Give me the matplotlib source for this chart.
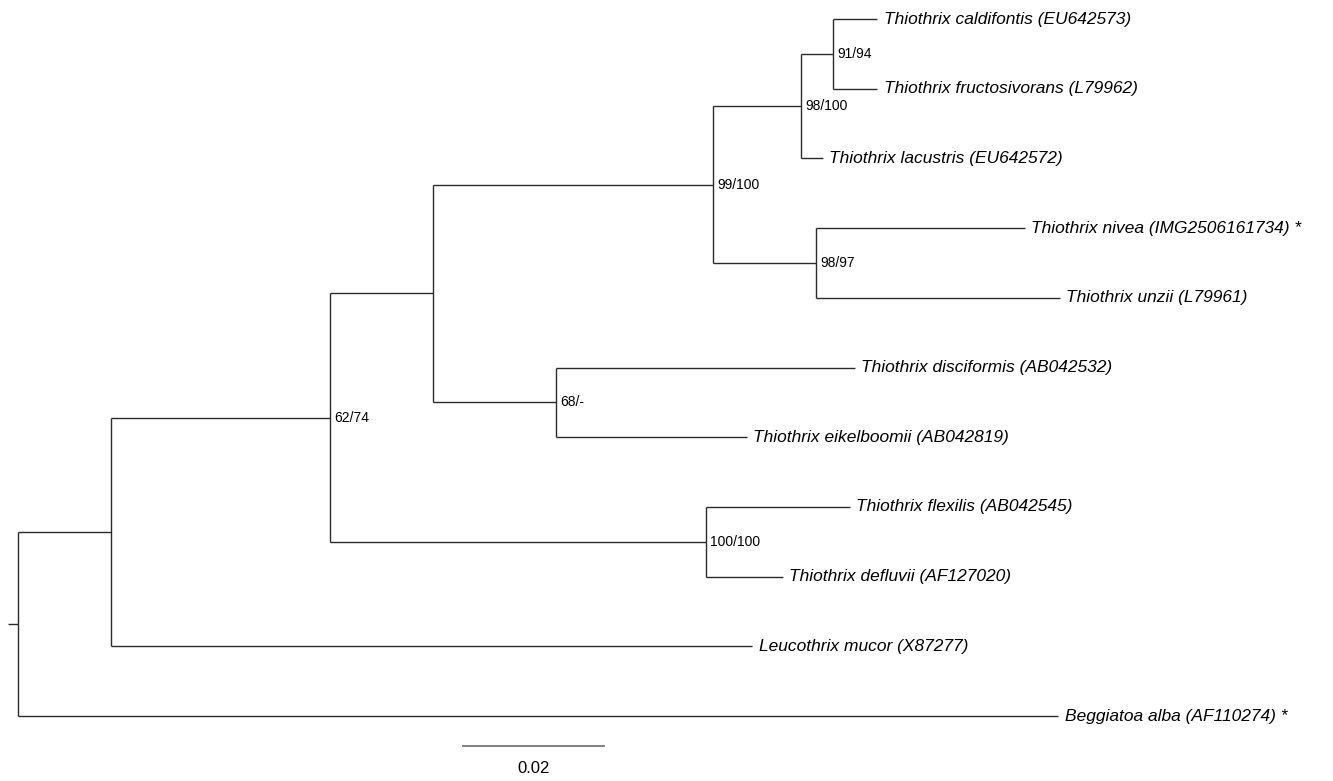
import matplotlib
matplotlib.use('Agg')
import matplotlib.pyplot as plt

# tree stored as a parent table, branch lengths in substitutions per site
nodes = ['root', 'A', 'B', 'C', 'D', 'E', 'F', 'G', 'H', 'I',
         'caldifontis', 'fructosivorans', 'lacustris', 'nivea', 'unzii',
         'disciformis', 'eikelboomii', 'flexilis', 'defluvii',
         'leucothrix', 'beggiatoa']
parents = [None, 'root', 'A', 'B', 'C', 'D', 'E', 'D', 'C', 'B',
           'F', 'F', 'E', 'G', 'G', 'H', 'H', 'I', 'I', 'A', 'root']
branch_len = [0.0014, 0.0130, 0.0306, 0.0144, 0.0392, 0.0123, 0.0045, 0.0144, 0.0173, 0.0526,
              0.0062, 0.0062, 0.0031, 0.0292, 0.0341, 0.0417, 0.0266, 0.0201, 0.0108,
              0.0897, 0.1455]
support = ['', '', '62/74', '', '99/100', '98/100', '91/94', '98/97', '68/-', '100/100',
           '', '', '', '', '', '', '', '', '', '', '']
tip_labels = {
    'caldifontis': 'Thiothrix caldifontis (EU642573)',
    'fructosivorans': 'Thiothrix fructosivorans (L79962)',
    'lacustris': 'Thiothrix lacustris (EU642572)',
    'nivea': 'Thiothrix nivea (IMG2506161734) *',
    'unzii': 'Thiothrix unzii (L79961)',
    'disciformis': 'Thiothrix disciformis (AB042532)',
    'eikelboomii': 'Thiothrix eikelboomii (AB042819)',
    'flexilis': 'Thiothrix flexilis (AB042545)',
    'defluvii': 'Thiothrix defluvii (AF127020)',
    'leucothrix': 'Leucothrix mucor (X87277)',
    'beggiatoa': 'Beggiatoa alba (AF110274) *',
}
scale_len = 0.02

children = {n: [] for n in nodes}
for n, p in zip(nodes, parents):
    if p is not None:
        children[p].append(n)
blen = dict(zip(nodes, branch_len))
supp = dict(zip(nodes, support))

# x = distance from start of root stub, y = leaf order
xpos = {}
ypos = {}
leaf_count = [0]

def layout(n, x0):
    xpos[n] = x0 + blen[n]
    if not children[n]:
        ypos[n] = leaf_count[0]
        leaf_count[0] += 1
    else:
        for c in children[n]:
            layout(c, xpos[n])
        ypos[n] = (ypos[children[n][0]] + ypos[children[n][-1]]) / 2

layout('root', 0.0)

W, H = 1333, 781
px_per_unit = 7150.0
row_px = 69.7
fig = plt.figure(figsize=(W / 100, H / 100), dpi=100)
ax = fig.add_axes([0, 0, 1, 1])
ax.set_xlim(-8 / px_per_unit, (W - 8) / px_per_unit)
ax.set_ylim((H - 19) / row_px, -19 / row_px)
ax.axis('off')

lc = '#2b2b2b'
lw = 1.0
leaf_font = ['Liberation Sans', 'DejaVu Sans']

for n, p in zip(nodes, parents):
    x0 = xpos[p] if p is not None else 0.0
    ax.plot([x0, xpos[n]], [ypos[n], ypos[n]], color=lc, lw=lw, solid_capstyle='butt')
    if children[n]:
        ax.plot([xpos[n], xpos[n]], [ypos[children[n][0]], ypos[children[n][-1]]],
                color=lc, lw=lw, solid_capstyle='butt')
        if supp[n]:
            ax.annotate(supp[n], (xpos[n], ypos[n]), xytext=(3, 0), textcoords='offset points',
                        ha='left', va='center', fontsize=10, family=leaf_font)
    else:
        ax.annotate(tip_labels[n], (xpos[n], ypos[n]), xytext=(4.5, 0), textcoords='offset points',
                    ha='left', va='center', fontsize=12.5, style='italic', family=leaf_font)

# scale bar
sb_x = 454 / px_per_unit
sb_y = (746 - 19) / row_px
ax.plot([sb_x, sb_x + scale_len], [sb_y, sb_y], color='#777777', lw=1.3, solid_capstyle='butt')
ax.text(sb_x + scale_len / 2, (768 - 19) / row_px, str(scale_len), ha='center', va='center',
        fontsize=12, family=leaf_font)

fig.savefig('out.png', dpi=100)
